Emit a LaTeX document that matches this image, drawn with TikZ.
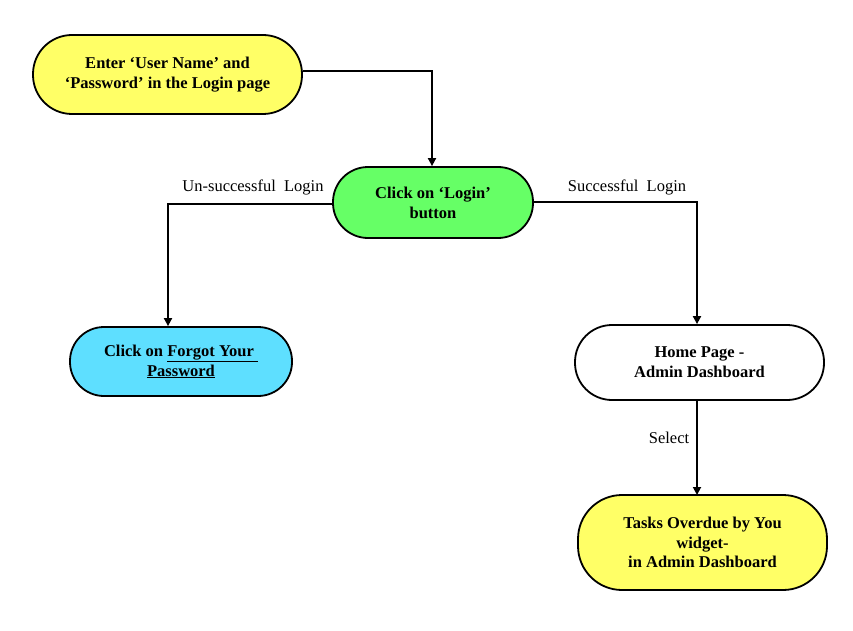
\documentclass[tikz,border=0pt]{standalone}
\usepackage{fontspec}
\setmainfont{Liberation Serif}
\usetikzlibrary{arrows.meta}
\definecolor{yel}{HTML}{FFFF66}
\definecolor{grn}{HTML}{66FF66}
\definecolor{cyn}{HTML}{5EDFFF}
\tikzset{
  term/.style={draw=black, line width=1.8pt, align=center, inner sep=0pt,
    font=\fontsize{16.5}{19.8}\selectfont\bfseries},
  conn/.style={line width=1.8pt, -{Triangle[length=8pt,width=8pt]}},
  lbl/.style={font=\fontsize{16.5}{19}\selectfont}
}
\begin{document}
\begin{tikzpicture}[x=1pt,y=-1pt]
\useasboundingbox (0,0) rectangle (853,631);
\node[term, fill=yel, minimum width=269pt, minimum height=79pt, rounded corners=39pt] (n1) at (167.5,74.5) {Enter ‘User Name’ and\\‘Password’ in the Login page};
\node[term, fill=grn, minimum width=200pt, minimum height=71pt, rounded corners=35pt] (n2) at (433,202.5) {Click on ‘Login’\\button};
\node[term, fill=cyn, minimum width=222pt, minimum height=69pt, rounded corners=34pt] (n3) at (181,361.5) {Click on \underline{Forgot Your }\\\underline{Password}};
\node[term, fill=white, minimum width=249pt, minimum height=75pt, rounded corners=37pt] (n4) at (699.5,362.5) {Home Page -\\Admin Dashboard};
\node[term, fill=yel, minimum width=249pt, minimum height=95pt, rounded corners=44pt] (n5) at (702.5,542.5) {Tasks Overdue by You\\widget-\\in Admin Dashboard};
\coordinate (c1) at (432,71);
\coordinate (c2) at (168,204);
\coordinate (c3) at (697,202);
\draw[conn] (n1.east |- c1) -- (c1) -- (c1 |- n2.north);
\draw[conn] (n2.west |- c2) -- (c2) -- (c2 |- n3.north);
\draw[conn] (n2.east |- c3) -- (c3) -- (c3 |- n4.north);
\draw[conn] (697,400) -- (697,495);
\node[lbl] (l1) at (253,187) {Un-successful\ \ Login};
\node[lbl] (l2) at (627,187) {Successful\ \ Login};
\node[lbl] (l3) at (669,438) {Select};
\end{tikzpicture}
\end{document}
